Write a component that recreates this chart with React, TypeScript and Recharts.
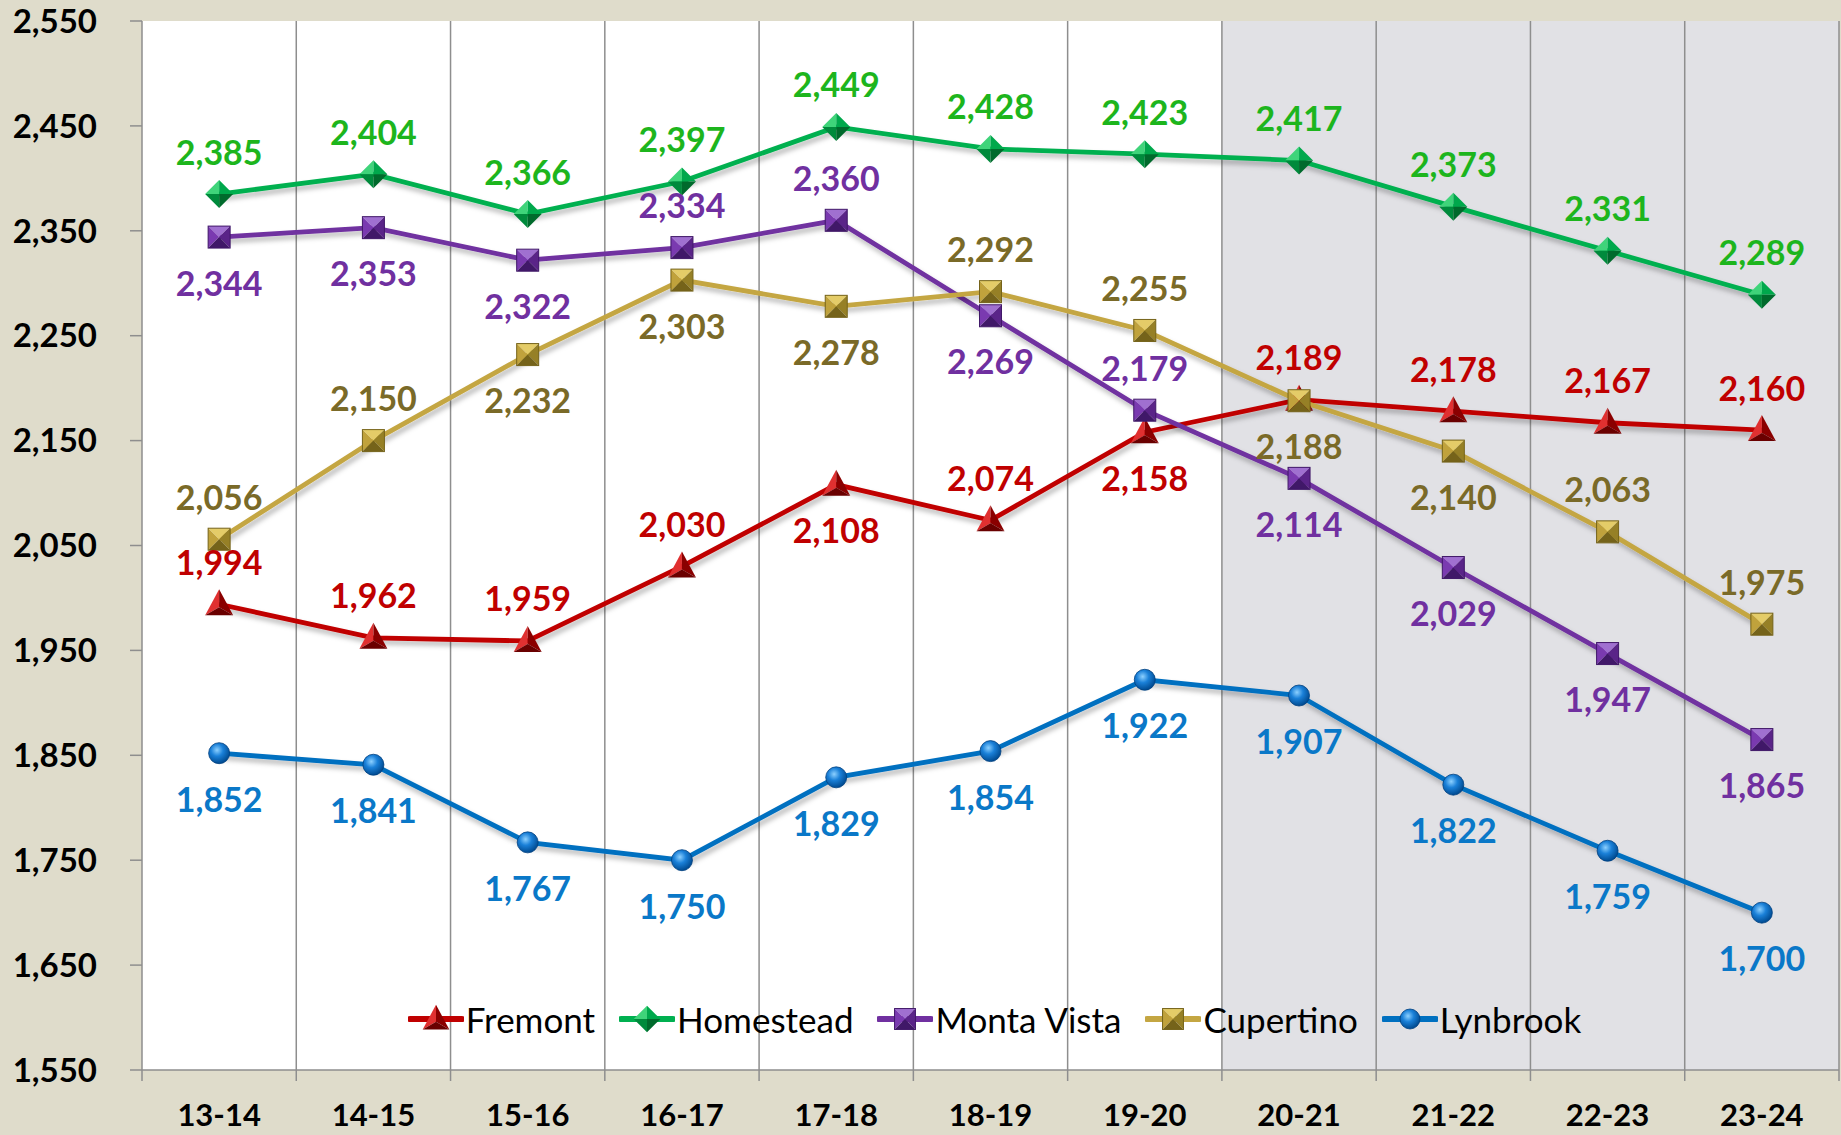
import React from 'react';
import { LineChart, Line, XAxis, YAxis, ReferenceArea, ReferenceLine, Legend, LabelList } from 'recharts';

const categories = ['13-14', '14-15', '15-16', '16-17', '17-18', '18-19', '19-20', '20-21', '21-22', '22-23', '23-24'];
const fremont = [1994, 1962, 1959, 2030, 2108, 2074, 2158, 2189, 2178, 2167, 2160];
const homestead = [2385, 2404, 2366, 2397, 2449, 2428, 2423, 2417, 2373, 2331, 2289];
const montaVista = [2344, 2353, 2322, 2334, 2360, 2269, 2179, 2114, 2029, 1947, 1865];
const cupertino = [2056, 2150, 2232, 2303, 2278, 2292, 2255, 2188, 2140, 2063, 1975];
const lynbrook = [1852, 1841, 1767, 1750, 1829, 1854, 1922, 1907, 1822, 1759, 1700];
const yTicks = [1550, 1650, 1750, 1850, 1950, 2050, 2150, 2250, 2350, 2450, 2550];

// label placement: a = above, b = below
const fremontPos = ['a', 'a', 'a', 'a', 'b', 'a', 'b', 'a', 'a', 'a', 'a'];
const homesteadPos = ['a', 'a', 'a', 'a', 'a', 'a', 'a', 'a', 'a', 'a', 'a'];
const montaVistaPos = ['b', 'b', 'b', 'a', 'a', 'b', 'a', 'b', 'b', 'b', 'b'];
const cupertinoPos = ['a', 'a', 'b', 'b', 'b', 'a', 'a', 'b', 'b', 'a', 'a'];
const lynbrookPos = ['b', 'b', 'b', 'b', 'b', 'b', 'b', 'b', 'b', 'b', 'b'];

const data = categories.map((c, i) => ({
  i,
  cat: c,
  Fremont: fremont[i],
  Homestead: homestead[i],
  'Monta Vista': montaVista[i],
  Cupertino: cupertino[i],
  Lynbrook: lynbrook[i],
}));

const xTicks: number[] = [];
for (let k = 0; k <= categories.length * 2; k++) xTicks.push(-0.5 + k * 0.5);

const FONT = 'Lato, "Open Sans", sans-serif';
const GRID = '#8e8e8e';

type Shape = 'triangle' | 'diamond' | 'square' | 'circle';
interface SeriesDef {
  name: string;
  line: string;
  label: string;
  shape: Shape;
  light: string;
  mid: string;
  dark: string;
  darkest: string;
  pos: string[];
}

const series: SeriesDef[] = [
  { name: 'Fremont', line: '#c00000', label: '#c00000', shape: 'triangle', light: '#e03030', mid: '#b00000', dark: '#8a0000', darkest: '#6a0000', pos: fremontPos },
  { name: 'Homestead', line: '#00b050', label: '#1db51d', shape: 'diamond', light: '#3fd47a', mid: '#00a84c', dark: '#008a3c', darkest: '#006a2c', pos: homesteadPos },
  { name: 'Monta Vista', line: '#7030a0', label: '#7030a0', shape: 'square', light: '#a070d0', mid: '#7a3ab0', dark: '#5a2488', darkest: '#401868', pos: montaVistaPos },
  { name: 'Cupertino', line: '#c4a642', label: '#7a6a28', shape: 'square', light: '#e4cc68', mid: '#c0a23c', dark: '#968026', darkest: '#75631a', pos: cupertinoPos },
  { name: 'Lynbrook', line: '#0070c0', label: '#0a78c8', shape: 'circle', light: '#5ab0ff', mid: '#0a78d0', dark: '#005aa0', darkest: '#004080', pos: lynbrookPos },
];

function Marker({ cx, cy, s, scale = 1 }: { cx: number; cy: number; s: SeriesDef; scale?: number }) {
  if (cx == null || cy == null || isNaN(cx) || isNaN(cy)) return null;
  const p = (pts: number[][]) => pts.map((q) => `${q[0]},${q[1]}`).join(' ');
  if (s.shape === 'square') {
    const h = 11 * scale;
    return (
      <g>
        <polygon points={p([[cx - h, cy - h], [cx + h, cy - h], [cx, cy]])} fill={s.light} />
        <polygon points={p([[cx - h, cy - h], [cx - h, cy + h], [cx, cy]])} fill={s.mid} />
        <polygon points={p([[cx + h, cy - h], [cx + h, cy + h], [cx, cy]])} fill={s.dark} />
        <polygon points={p([[cx - h, cy + h], [cx + h, cy + h], [cx, cy]])} fill={s.darkest} />
        <rect x={cx - h} y={cy - h} width={2 * h} height={2 * h} fill="none" stroke={s.darkest} strokeWidth={1} />
      </g>
    );
  }
  if (s.shape === 'diamond') {
    const h = 14 * scale;
    return (
      <g>
        <polygon points={p([[cx, cy - h], [cx - h, cy], [cx, cy]])} fill={s.light} />
        <polygon points={p([[cx, cy - h], [cx + h, cy], [cx, cy]])} fill={s.mid} />
        <polygon points={p([[cx - h, cy], [cx, cy + h], [cx, cy]])} fill={s.dark} />
        <polygon points={p([[cx + h, cy], [cx, cy + h], [cx, cy]])} fill={s.darkest} />
      </g>
    );
  }
  if (s.shape === 'triangle') {
    const t = 15 * scale;
    const w = 14 * scale;
    const b = 11 * scale;
    const c = 3 * scale;
    return (
      <g>
        <polygon points={p([[cx, cy - t], [cx - w, cy + b], [cx, cy + c]])} fill={s.light} />
        <polygon points={p([[cx, cy - t], [cx + w, cy + b], [cx, cy + c]])} fill={s.dark} />
        <polygon points={p([[cx - w, cy + b], [cx + w, cy + b], [cx, cy + c]])} fill={s.darkest} />
      </g>
    );
  }
  const r = 10.5 * scale;
  return <circle cx={cx} cy={cy} r={r} fill="url(#gradBlue)" stroke={s.darkest} strokeWidth={0.8} />;
}

const XTick = (props: any) => {
  const { x, y, payload } = props;
  const v = payload.value;
  if (Number.isInteger(v)) {
    return (
      <text x={x} y={y + 44} textAnchor="middle" dominantBaseline="central" fill="#000" fontSize={31} fontWeight={700} fontFamily={FONT}>
        {categories[v]}
      </text>
    );
  }
  return <line x1={x} y1={y} x2={x} y2={y + 11} stroke={GRID} strokeWidth={1.5} />;
};

const LegendContent = () => (
  <div style={{ display: 'flex', justifyContent: 'center', alignItems: 'center', width: '100%' }}>
    {series.map((s, k) => (
      <div key={s.name} style={{ display: 'flex', alignItems: 'center', marginLeft: k === 0 ? 0 : 24 }}>
        <svg width={56} height={36} style={{ display: 'block' }}>
          <line x1={2} y1={18} x2={54} y2={18} stroke={s.line} strokeWidth={6} strokeLinecap="round" />
          <Marker cx={28} cy={18} s={s} scale={0.95} />
        </svg>
        <span style={{ fontFamily: FONT, fontSize: 35, color: '#000', marginLeft: 2, lineHeight: '36px' }}>{s.name}</span>
      </div>
    ))}
  </div>
);

export default function App() {
  return (
    <div style={{ position: 'absolute', left: 0, top: 0, width: 1841, height: 1135, background: '#dfdccb' }}>
      <LineChart width={1841} height={1135} data={data} margin={{ top: 21, right: 2, bottom: 0, left: 0 }}>
        <defs>
          <radialGradient id="gradBlue" cx="40%" cy="35%" r="65%">
            <stop offset="0%" stopColor="#8cd0ff" />
            <stop offset="45%" stopColor="#1a80d8" />
            <stop offset="100%" stopColor="#004a90" />
          </radialGradient>
          <filter id="sh" x="-5%" y="-20%" width="110%" height="140%">
            <feDropShadow dx="2" dy="4" stdDeviation="2.5" floodColor="#000" floodOpacity="0.28" />
          </filter>
        </defs>
        <XAxis
          type="number"
          dataKey="i"
          domain={[-0.5, categories.length - 0.5]}
          ticks={xTicks}
          interval={0}
          tickSize={0}
          tickMargin={0}
          tickLine={false}
          tick={<XTick />}
          height={65}
          stroke={GRID}
          strokeWidth={1.5}
        />
        <YAxis
          type="number"
          domain={[1550, 2550]}
          ticks={yTicks}
          interval={0}
          width={142}
          tickSize={12}
          tickMargin={33}
          stroke={GRID}
          strokeWidth={1.5}
          tick={{ fill: '#000', fontSize: 33, fontWeight: 700, fontFamily: FONT }}
          tickFormatter={(v: number) => v.toLocaleString('en-US')}
        />
        <ReferenceArea x1={-0.5} x2={6.5} y1={1550} y2={2550} fill="#ffffff" fillOpacity={1} stroke="none" />
        <ReferenceArea x1={6.5} x2={categories.length - 0.5} y1={1550} y2={2550} fill="#e1e1e5" fillOpacity={1} stroke="none" />
        {categories.map((c, i) => (
          <ReferenceLine key={c} x={i + 0.5} stroke={GRID} strokeWidth={1.5} />
        ))}
        <Legend
          layout="horizontal"
          verticalAlign="middle"
          align="center"
          content={<LegendContent />}
          wrapperStyle={{ position: 'absolute', left: 146, top: 1001, width: 1697, height: 36 }}
        />
        {series.map((s) => (
          <Line
            key={s.name}
            dataKey={s.name}
            stroke={s.line}
            strokeWidth={4.8}
            isAnimationActive={false}
            activeDot={false}
            filter="url(#sh)"
            dot={(p: any) => <Marker key={`${s.name}-${p.index}`} cx={p.cx} cy={p.cy} s={s} />}
          >
            <LabelList
              dataKey={s.name}
              content={(p: any) => {
                const idx = p.index;
                const above = s.pos[idx] === 'a';
                const yy = p.y + (above ? -43 : 45);
                return (
                  <text
                    key={`${s.name}-l-${idx}`}
                    x={p.x}
                    y={yy}
                    textAnchor="middle"
                    dominantBaseline="central"
                    fill={s.label}
                    fontSize={34}
                    fontWeight={700}
                    fontFamily={FONT}
                  >
                    {Number(p.value).toLocaleString('en-US')}
                  </text>
                );
              }}
            />
          </Line>
        ))}
      </LineChart>
    </div>
  );
}
